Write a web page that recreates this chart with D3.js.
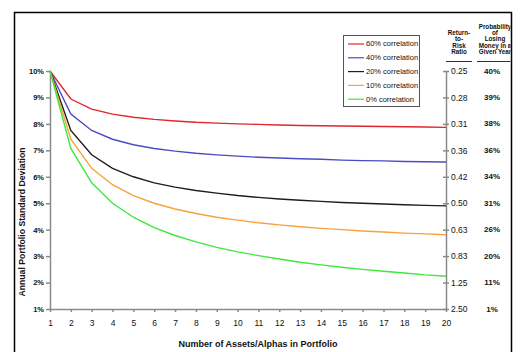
<!DOCTYPE html>
<html lang="en">
<head>
    <meta charset="UTF-8">
    <title>Portfolio Standard Deviation</title>
    <script src="https://d3js.org/d3.v7.min.js"></script>
    <style>
        body { margin: 0; background: #fff; }
        text { font-family: "Liberation Sans", Arial, sans-serif; fill: #111; }
        .axis path, .axis line { stroke: #8a8a8a; stroke-width: 1.5; }
        .axis text { font-size: 8.5px; }
        .title { font-size: 9px; font-weight: bold; }
        .hdr { font-size: 6.3px; font-weight: bold; }
        .legend text { font-size: 7.5px; }
    </style>
</head>
<body>
    <svg id="chart" width="520" height="352"></svg>
    <script>
        const assets = d3.range(1, 21);
        const corr60 = [10, 8.94, 8.56, 8.37, 8.25, 8.17, 8.11, 8.06, 8.03, 8.00, 7.98, 7.96, 7.94, 7.93, 7.92, 7.91, 7.90, 7.89, 7.88, 7.87];
        const corr40 = [10, 8.37, 7.75, 7.42, 7.21, 7.07, 6.97, 6.89, 6.83, 6.78, 6.74, 6.71, 6.68, 6.66, 6.63, 6.61, 6.60, 6.58, 6.57, 6.56];
        const corr20 = [10, 7.75, 6.83, 6.32, 6.00, 5.77, 5.61, 5.48, 5.38, 5.29, 5.22, 5.16, 5.11, 5.07, 5.03, 5.00, 4.97, 4.94, 4.92, 4.90];
        const corr10 = [10, 7.42, 6.32, 5.70, 5.29, 5.00, 4.78, 4.61, 4.47, 4.36, 4.26, 4.18, 4.11, 4.05, 4.00, 3.95, 3.91, 3.87, 3.84, 3.81];
        const corr0  = [10, 7.07, 5.77, 5.00, 4.47, 4.08, 3.78, 3.54, 3.33, 3.16, 3.02, 2.89, 2.77, 2.67, 2.58, 2.50, 2.43, 2.36, 2.29, 2.24];
        const seriesNames = ["60% correlation", "40% correlation", "20% correlation", "10% correlation", "0% correlation"];
        const seriesColors = ["#e0262e", "#4b4bc4", "#1e1e1e", "#f7a23a", "#3ee83e"];
        const yTicks = [10, 9, 8, 7, 6, 5, 4, 3, 2, 1];
        const ratioLabels = ["0.25", "0.28", "0.31", "0.36", "0.42", "0.50", "0.63", "0.83", "1.25", "2.50"];
        const probLabels = ["40%", "39%", "38%", "36%", "34%", "31%", "26%", "20%", "11%", "1%"];

        const svg = d3.select("#chart");

        // outer frame (open at the bottom, runs off the picture)
        svg.append("path")
            .attr("d", "M14.5,360 V12.5 H511.5 V360")
            .attr("fill", "none").attr("stroke", "#000").attr("stroke-width", 1.5);

        const x = d3.scaleLinear().domain([1, 20]).range([50, 446]);
        const y = d3.scaleLinear().domain([1, 10]).range([309, 71]);

        svg.append("g").attr("class", "axis")
            .attr("transform", "translate(50,0)")
            .call(d3.axisLeft(y).tickValues(yTicks).tickSize(4).tickSizeOuter(0).tickPadding(2)
                .tickFormat(d => d + "%"))
            .selectAll("text").style("font-weight", "bold").style("font-size", "7.5px");

        svg.append("g").attr("class", "axis")
            .attr("transform", "translate(0,309)")
            .call(d3.axisBottom(x).tickValues(assets).tickSize(3).tickSizeOuter(0).tickPadding(8));

        const right = svg.append("g").attr("class", "axis")
            .attr("transform", "translate(446,0)")
            .call(d3.axisRight(y).tickValues(yTicks).tickSize(3).tickSizeOuter(0).tickPadding(2)
                .tickFormat((d, i) => ratioLabels[i]));
        right.selectAll(".tick line").attr("x1", -3);

        svg.append("g").selectAll("text")
            .data(yTicks).join("text")
            .attr("x", 492).attr("y", d => y(d)).attr("dy", "0.32em")
            .attr("text-anchor", "middle")
            .style("font-size", "8px").style("font-weight", "bold")
            .text((d, i) => probLabels[i]);

        // column headers
        svg.append("clipPath").attr("id", "frameClip")
            .append("rect").attr("x", 0).attr("y", 0).attr("width", 510.5).attr("height", 352);
        const hdr = svg.append("g").attr("clip-path", "url(#frameClip)");
        ["Return-", "to-", "Risk", "Ratio"].forEach((t, i) => {
            hdr.append("text").attr("class", "hdr")
                .attr("x", 459).attr("y", 35 + i * 6.4).attr("text-anchor", "middle").text(t);
        });
        ["Probability", "of", "Losing", "Money in a", "Given Year"].forEach((t, i) => {
            hdr.append("text").attr("class", "hdr")
                .attr("x", 495).attr("y", 28.5 + i * 6.4).attr("text-anchor", "middle").text(t);
        });
        hdr.append("line").attr("x1", 446).attr("x2", 472).attr("y1", 61.5).attr("y2", 61.5)
            .attr("stroke", "#333").attr("stroke-width", 1);
        hdr.append("line").attr("x1", 477).attr("x2", 512).attr("y1", 61.5).attr("y2", 61.5)
            .attr("stroke", "#333").attr("stroke-width", 1);

        const series = [corr60, corr40, corr20, corr10, corr0];
        const line = d3.line().x((d, i) => x(assets[i])).y(d => y(d));
        svg.append("g").selectAll("path")
            .data(series).join("path")
            .attr("d", line)
            .attr("fill", "none")
            .attr("stroke", (d, i) => seriesColors[i])
            .attr("stroke-width", 1.4);

        // legend
        const legend = svg.append("g").attr("class", "legend");
        legend.append("rect").attr("x", 343.5).attr("y", 35.5).attr("width", 76).attr("height", 71)
            .attr("fill", "#fff").attr("stroke", "#555").attr("stroke-width", 1);
        seriesNames.forEach((name, i) => {
            const ly = 44 + i * 13.8;
            legend.append("line").attr("x1", 348).attr("x2", 364).attr("y1", ly).attr("y2", ly)
                .attr("stroke", seriesColors[i]).attr("stroke-width", 1.2);
            legend.append("text").attr("x", 366).attr("y", ly).attr("dy", "0.32em").text(name);
        });

        svg.append("text").attr("class", "title")
            .attr("x", 258).attr("y", 347).attr("text-anchor", "middle")
            .text("Number of Assets/Alphas in Portfolio");
        svg.append("text").attr("class", "title")
            .attr("transform", "translate(25,222) rotate(-90)").attr("text-anchor", "middle")
            .style("font-size", "8.7px")
            .text("Annual Portfolio Standard Deviation");
    </script>
</body>
</html>
